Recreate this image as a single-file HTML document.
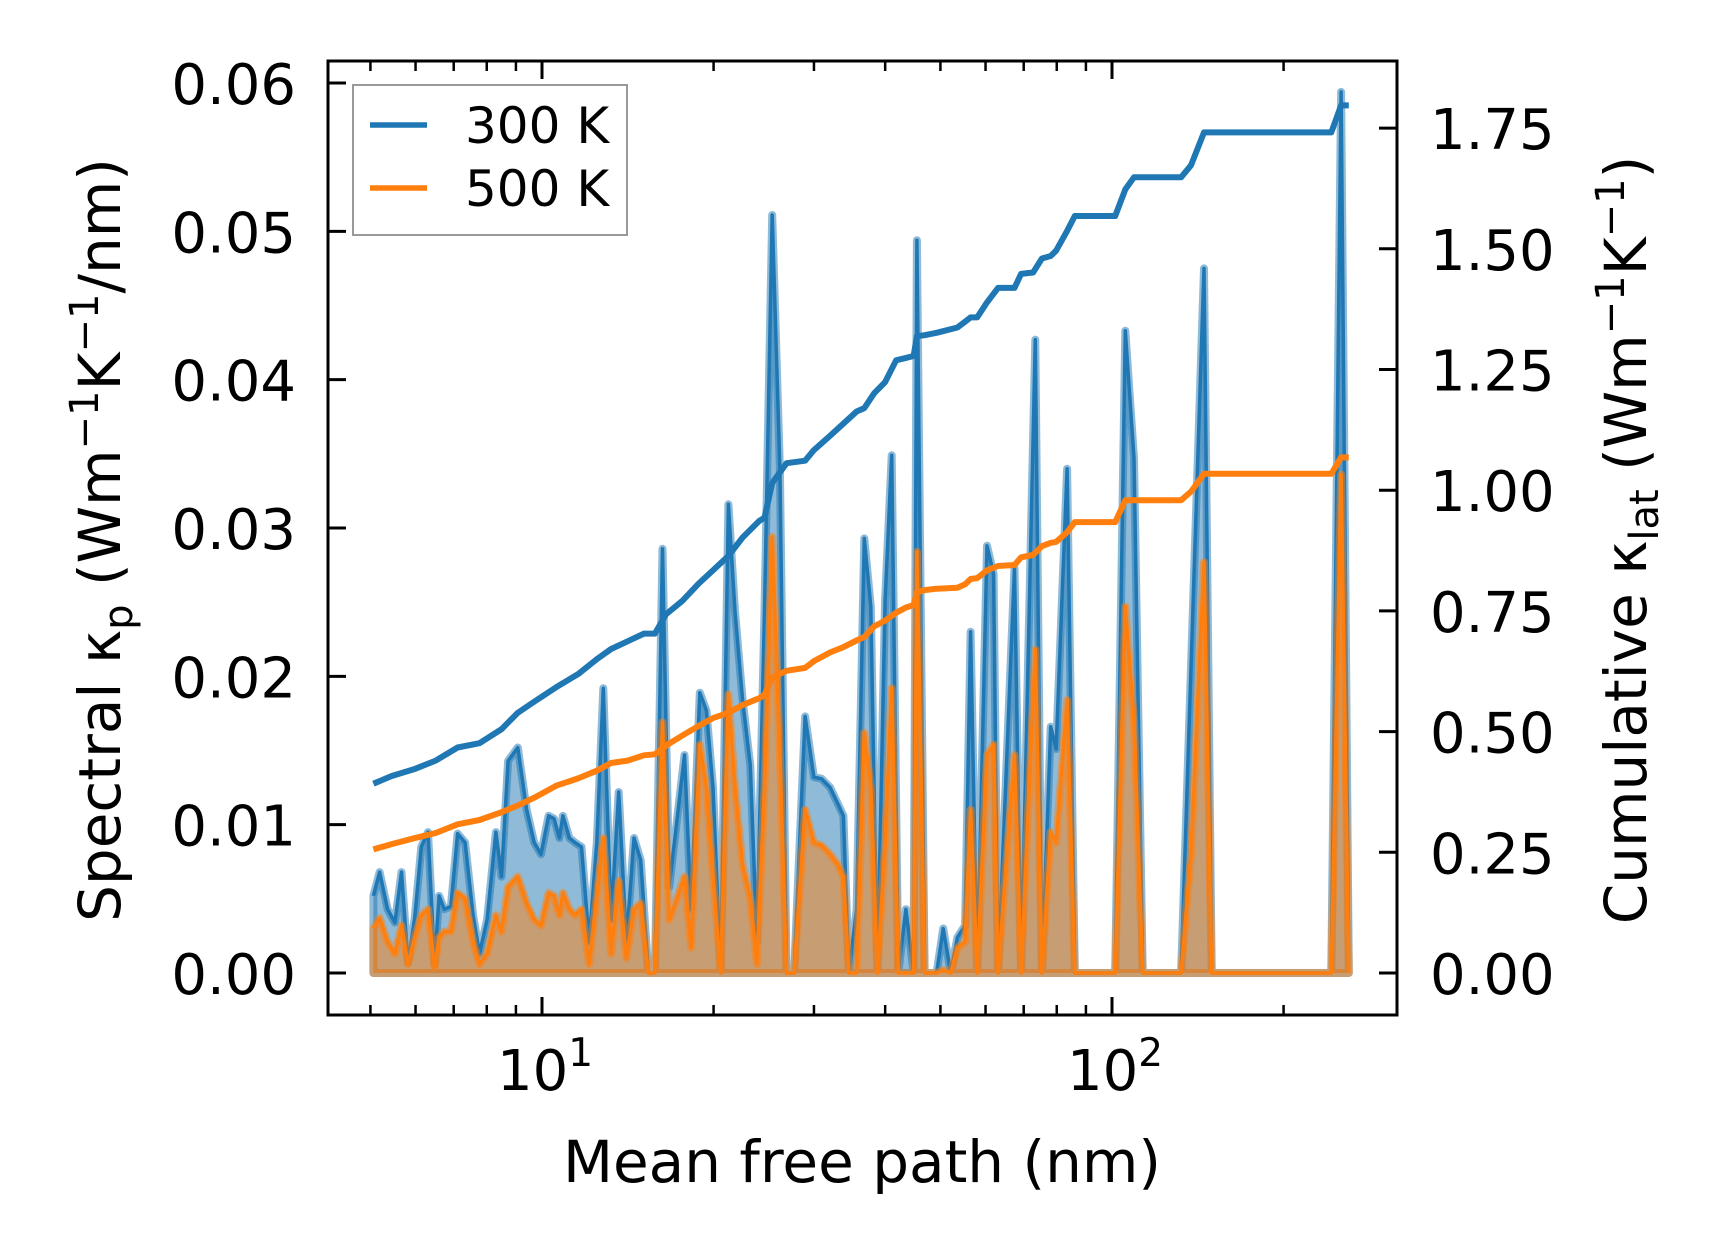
<!DOCTYPE html>
<html><head><meta charset="utf-8"><style>
html,body{margin:0;padding:0;background:#fff;}
svg{display:block;font-family:"DejaVu Sans","Liberation Sans",sans-serif;}
</style></head><body>
<svg id="chart" width="1716" height="1254" viewBox="0 0 1716 1254" xmlns="http://www.w3.org/2000/svg">
<rect width="1716" height="1254" fill="#fff"/>
<g id="plot"></g>
<g id="axes"></g>
<g>
<rect x="353" y="85" width="274" height="150" fill="#fff" fill-opacity="0.8" stroke="#999" stroke-width="2"/>
<line x1="370" y1="125" x2="427" y2="125" stroke="#1f77b4" stroke-width="5.5"/>
<text x="465" y="143" font-size="50">300 K</text>
<line x1="370" y1="188" x2="427" y2="188" stroke="#ff7f0e" stroke-width="5.5"/>
<text x="465" y="206" font-size="50">500 K</text>
</g>
<text x="862" y="1182" font-size="58" text-anchor="middle">Mean free path (nm)</text>
<text transform="translate(120,540) rotate(-90)" font-size="58" text-anchor="middle">Spectral κ<tspan font-size="40" dy="12">p</tspan><tspan dy="-12"> (Wm</tspan><tspan font-size="40" dy="-22">−1</tspan><tspan dy="22">K</tspan><tspan font-size="40" dy="-22">−1</tspan><tspan dy="22">/nm)</tspan></text>
<text transform="translate(1646,540) rotate(-90)" font-size="58" text-anchor="middle">Cumulative κ<tspan font-size="40" dy="12">lat</tspan><tspan dy="-12"> (Wm</tspan><tspan font-size="40" dy="-22">−1</tspan><tspan dy="22">K</tspan><tspan font-size="40" dy="-22">−1</tspan><tspan dy="22">)</tspan></text>
</svg>
<script>
// spectral data (mean free path in nm, spectral kappa in units of 1e-3 W/mK/nm)
const mfp = [5.06,5.19,5.36,5.52,5.67,5.82,5.98,6.14,6.31,6.48,6.60,6.74,6.92,7.11,7.33,7.57,7.77,8.01,8.30,8.49,8.72,9.07,9.40,9.69,9.96,10.27,10.50,10.73,10.88,11.17,11.42,11.73,12.10,12.48,12.81,13.22,13.63,14.06,14.50,14.90,15.37,15.78,16.27,16.72,17.24,17.78,18.26,18.92,19.43,19.95,20.58,21.23,21.81,22.49,23.20,23.82,24.57,25.34,26.14,26.85,27.69,28.94,29.99,30.93,32.04,33.05,33.79,34.55,35.64,36.76,37.75,38.77,39.99,41.07,42.17,43.50,44.87,45.47,46.90,49.24,50.56,52.15,53.56,55.24,56.48,58.00,60.36,61.98,63.10,67.44,69.26,73.36,75.33,78.05,79.80,83.42,86.03,88.74,101.3,105.5,109.3,113.2,132.2,137.6,145.0,149.6,242.5,252.3,260.3];
const spec300 = [5.2,6.8,4.3,3.4,6.8,0.7,3.7,8.5,9.5,0.6,5.2,4.3,4.5,9.4,8.8,3.9,1.3,3.6,9.5,6.5,14.3,15.2,11.0,8.8,8.0,10.6,10.4,9.1,10.6,9.1,8.8,8.5,2.1,8.8,19.2,3.6,12.2,2.1,9.1,7.6,0,0,28.6,5.8,10.2,14.7,4.3,18.9,17.7,12.5,0,31.6,24.4,18.4,14.0,2.1,24.4,51.1,34.0,0,0,17.3,13.2,13.1,12.5,11.4,10.6,0,4.3,29.3,24.7,0,25.1,34.9,0,4.3,0,49.4,0,0,3.0,0,2.4,3.2,23.0,0,28.8,26.9,0,27.3,0,42.7,0,16.6,15.1,34.0,0,0,0,43.3,34.7,0,0,20.6,47.5,0,0,59.4,0];
const spec500 = [3.0,3.7,2.1,1.3,3.2,0.6,2.4,3.9,4.3,0.3,2.4,2.8,2.8,5.4,5.0,2.1,0.6,1.3,3.9,2.8,5.8,6.5,4.7,3.6,3.2,5.4,5.2,3.9,5.4,4.3,3.9,4.3,0.6,5.2,9.1,1.3,6.2,1.0,4.3,4.7,0,0,16.9,3.6,5.0,6.5,1.7,15.4,12.5,6.5,0,18.8,12.5,7.3,5.0,0.6,12.5,29.4,14.7,0,0,11.0,8.8,8.6,8.0,7.3,6.5,0,0,16.2,12.5,0,8.8,19.2,0,0,0,28.4,0,0,0.2,0,1.7,2.1,11.0,0,14.7,15.4,0,14.7,0,21.8,0,9.5,8.8,18.4,0,0,0,24.7,16.9,0,0,8.0,27.7,0,0,33.6,0];
// cumulative data (W/mK)
const mfpCum = [5.06,5.45,5.96,6.51,7.11,7.77,8.49,9.07,9.69,10.59,11.57,12.48,13.22,14.13,15.10,15.78,16.50,17.63,18.84,19.95,21.23,22.49,24.03,24.57,25.34,26.85,28.94,29.99,32.04,33.79,35.64,36.76,38.26,39.99,41.80,43.50,44.87,45.47,46.90,49.24,53.56,55.24,56.48,58.00,60.36,63.10,67.44,69.26,72.70,75.33,78.05,79.80,83.42,86.03,88.74,101.3,105.5,109.3,132.2,137.6,145.0,149.6,242.5,252.3,260.3];
const cum300 = [0.392,0.408,0.422,0.440,0.467,0.476,0.505,0.539,0.562,0.592,0.619,0.650,0.671,0.687,0.703,0.703,0.743,0.771,0.807,0.834,0.864,0.902,0.936,0.943,1.015,1.056,1.061,1.083,1.113,1.138,1.163,1.170,1.201,1.224,1.269,1.274,1.278,1.319,1.321,1.326,1.337,1.349,1.358,1.358,1.389,1.419,1.419,1.448,1.451,1.480,1.485,1.496,1.537,1.568,1.568,1.568,1.623,1.648,1.648,1.673,1.741,1.741,1.741,1.797,1.797];
const cum500 = [0.256,0.267,0.279,0.290,0.308,0.317,0.333,0.347,0.363,0.388,0.403,0.419,0.435,0.440,0.451,0.453,0.471,0.492,0.512,0.528,0.539,0.555,0.569,0.576,0.612,0.626,0.632,0.646,0.664,0.675,0.689,0.696,0.718,0.730,0.746,0.757,0.762,0.789,0.793,0.796,0.798,0.805,0.816,0.818,0.834,0.843,0.845,0.861,0.866,0.884,0.891,0.893,0.913,0.934,0.934,0.934,0.979,0.979,0.979,0.997,1.034,1.034,1.034,1.068,1.068];
const leftTicks = ["0.00","0.01","0.02","0.03","0.04","0.05","0.06"];
const rightTicks = ["0.00","0.25","0.50","0.75","1.00","1.25","1.50","1.75"];
const xMajor = [10,100];
const xMinor = [5,6,7,8,9,20,30,40,50,60,70,80,90,200];

const NS="http://www.w3.org/2000/svg";
const L=328,R=1397,T=61,B=1015;
function sx(v){return 542+570*Math.log10(v/10);}
function syL(v){return 973-v*14833;}       // v in W/mK/nm
function syR(v){return 973-v/0.25*120.7;}
function mk(tag,attrs,parent){const e=document.createElementNS(NS,tag);for(const k in attrs)e.setAttribute(k,attrs[k]);parent.appendChild(e);return e;}
const plot=document.getElementById('plot'), axes=document.getElementById('axes');

function drawSpec(vals,color,name){
  const n=Math.min(mfp.length,vals.length);
  let top=[];for(let i=0;i<n;i++)top.push(sx(mfp[i]).toFixed(1)+','+syL(vals[i]/1000).toFixed(1));
  const poly=top.join(' ')+' '+sx(mfp[n-1]).toFixed(1)+','+syL(0)+' '+sx(mfp[0]).toFixed(1)+','+syL(0);
  const f=mk('polygon',{points:poly,fill:color,'fill-opacity':0.5,stroke:color,'stroke-opacity':0.5,'stroke-width':8,'stroke-linejoin':'round'},plot);
  
  
  const l=mk('polyline',{points:top.join(' '),fill:'none',stroke:color,'stroke-width':3.5,'stroke-linejoin':'round'},plot);
  
  
}
drawSpec(spec300,'#1f77b4','spectral-300k');
drawSpec(spec500,'#ff7f0e','spectral-500k');
function drawCum(vals,color,name){
  const n=Math.min(mfpCum.length,vals.length);let p=[];
  for(let i=0;i<n;i++)p.push(sx(mfpCum[i]).toFixed(1)+','+syR(vals[i]).toFixed(1));
  const l=mk('polyline',{points:p.join(' '),fill:'none',stroke:color,'stroke-width':6,'stroke-linejoin':'round'},plot);
  
  
}
drawCum(cum300,'#1f77b4','cumulative-300k');
drawCum(cum500,'#ff7f0e','cumulative-500k');

// spines
const sp=mk('rect',{x:L,y:T,width:R-L,height:B-T,fill:'none',stroke:'#000','stroke-width':3},axes);


leftTicks.forEach(t=>{
  const y=syL(parseFloat(t));
  const tk=mk('line',{x1:L,y1:y,x2:L+18,y2:y,stroke:'#000','stroke-width':3},axes);
  
  
  const tx=mk('text',{x:296,y:y+21,'font-size':56,'text-anchor':'end'},axes);
  tx.textContent=t;
  
  
});
rightTicks.forEach(t=>{
  const y=syR(parseFloat(t));
  const tk=mk('line',{x1:R-18,y1:y,x2:R,y2:y,stroke:'#000','stroke-width':3},axes);
  
  
  const tx=mk('text',{x:1430,y:y+21,'font-size':56},axes);
  tx.textContent=t;
  
  
});
xMajor.forEach(v=>{
  const x=sx(v);
  [[B,B-18],[T,T+18]].forEach(([a,b])=>{
    const tk=mk('line',{x1:x,y1:a,x2:x,y2:b,stroke:'#000','stroke-width':3},axes);
    
    
  });
  const tx=mk('text',{x:x+3,y:1090,'font-size':56,'text-anchor':'middle'},axes);
  
  
  tx.textContent='10';
  const sup=mk('tspan',{'font-size':39,dy:-24},tx);
  sup.textContent=String(Math.round(Math.log10(v)));
});
xMinor.forEach(v=>{
  const x=sx(v);
  [[B,B-10],[T,T+10]].forEach(([a,b])=>{
    const tk=mk('line',{x1:x,y1:a,x2:x,y2:b,stroke:'#000','stroke-width':2.5},axes);
    
    
  });
});
</script>
</body></html>
